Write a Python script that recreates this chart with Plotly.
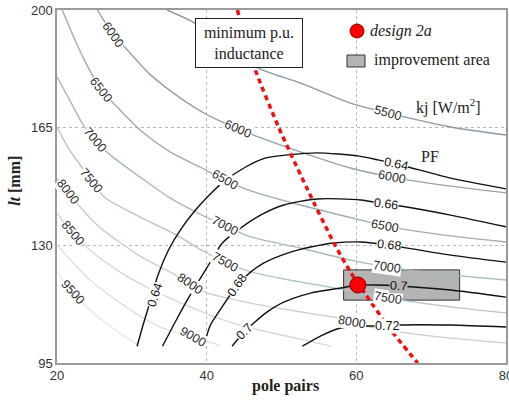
import plotly.graph_objects as go

# ---------------- data ----------------
# kj contour lines [W/m^2]  (x = pole pairs, y = lt [mm])
kj5500_x = [34.7, 38.2, 42.5, 46.8, 52.5, 59.2, 64.2, 72.6, 80.0]
kj5500_y = [200.0, 196.4, 189.6, 182.8, 178.3, 172.3, 169.4, 165.2, 162.8]
kj6000_x = [25.4, 27.5, 29.4, 32.5, 36.5, 40.1, 44.2, 45.9, 52.5, 59.2, 64.7, 72.6, 80.0]
kj6000_y = [200.0, 192.6, 188.1, 180.7, 173.8, 168.8, 164.6, 163.1, 157.8, 153.0, 150.3, 147.6, 145.6]
kj6500_x = [20.7, 22.4, 24.2, 25.9, 27.8, 31.1, 35.1, 39.1, 42.5, 45.9, 52.5, 60.6, 63.8, 72.6, 80.0]
kj6500_y = [200.0, 191.1, 182.8, 176.2, 171.7, 164.3, 157.8, 153.3, 149.4, 146.2, 142.0, 137.5, 135.8, 132.8, 131.0]
kj7000_x = [20.0, 21.7, 23.5, 25.1, 27.1, 31.1, 35.1, 39.1, 42.5, 45.9, 52.5, 59.2, 64.1, 72.6, 80.0]
kj7000_y = [180.1, 173.2, 165.8, 161.3, 156.9, 150.3, 144.1, 139.3, 135.8, 132.5, 129.2, 125.6, 123.6, 121.2, 119.7]
kj7500_x = [20.0, 21.5, 23.1, 24.6, 26.3, 31.1, 35.7, 39.1, 42.4, 45.9, 50.3, 57.9, 64.2, 72.6, 80.0]
kj7500_y = [165.2, 159.0, 153.9, 149.1, 144.4, 138.4, 133.4, 128.9, 125.0, 122.1, 120.0, 117.0, 114.3, 111.7, 109.9]
kj8000_x = [20.0, 21.5, 23.1, 25.8, 31.1, 35.8, 37.8, 39.8, 45.9, 52.5, 57.6, 59.4, 61.3, 65.9, 72.6, 80.0]
kj8000_y = [150.0, 145.9, 141.4, 135.2, 126.8, 121.2, 118.5, 116.1, 112.8, 110.2, 108.4, 107.2, 106.0, 104.2, 102.4, 101.0]
kj8500_x = [20.0, 22.1, 24.4, 28.4, 32.5, 37.8, 41.4, 45.9, 52.5, 56.6]
kj8500_y = [139.6, 133.7, 128.6, 122.1, 117.0, 111.7, 108.4, 105.4, 102.1, 100.0]
kj9000_x = [20.0, 24.4, 29.8, 33.8, 38.2, 41.2, 41.8]
kj9000_y = [130.1, 119.7, 110.8, 105.7, 102.7, 100.6, 100.0]
kj9500_x = [20.0, 22.1, 24.4, 28.4, 31.1]
kj9500_y = [122.1, 116.1, 110.8, 103.9, 100.0]

# power factor contour lines
pf064_x = [30.7, 31.5, 32.5, 33.5, 34.9, 36.5, 38.5, 40.1, 42.2, 45.2, 47.9, 50.8, 54.8, 60.2, 62.9, 65.3, 66.9, 72.6, 80.0]
pf064_y = [100.0, 106.3, 113.7, 121.2, 128.6, 134.6, 140.5, 144.4, 148.8, 153.3, 156.0, 156.9, 157.5, 156.6, 155.4, 154.2, 153.3, 150.0, 146.8]
pf066_x = [34.1, 35.8, 37.4, 40.1, 42.1, 44.2, 47.2, 50.3, 54.8, 60.6, 63.9, 65.9, 72.6, 80.0]
pf066_y = [100.0, 107.2, 113.7, 123.6, 130.7, 134.6, 139.0, 142.0, 143.8, 143.5, 142.3, 141.7, 139.0, 135.5]
pf068_x = [39.6, 40.5, 41.8, 44.1, 45.9, 47.6, 50.8, 53.9, 57.0, 60.6, 64.3, 65.9, 72.6, 80.0]
pf068_y = [100.0, 106.3, 110.8, 118.2, 122.1, 124.7, 127.7, 129.5, 130.7, 131.0, 130.1, 129.5, 127.1, 125.0]
pf070_x = [43.4, 45.0, 46.3, 48.1, 50.3, 53.9, 57.9, 60.2, 62.6, 65.7, 72.6, 80.0]
pf070_y = [100.0, 104.2, 106.9, 110.2, 113.1, 115.8, 117.3, 118.2, 118.2, 117.9, 116.7, 114.6]
pf072_x = [52.8, 55.2, 57.9, 61.3, 64.1, 65.7, 72.6, 80.0]
pf072_y = [100.0, 103.0, 105.4, 106.0, 106.0, 106.3, 106.3, 105.7]

# minimum p.u. inductance boundary
lmin_x = [44.1, 46.5, 49.6, 53.5, 57.0, 59.2, 61.3, 64.6, 68.2]
lmin_y = [200.0, 182.2, 165.2, 146.5, 130.7, 122.1, 115.2, 104.8, 95.0]

# design point and improvement area
design_x = [60.2]
design_y = [118.2]
improve_x = [58.3, 73.8]
improve_y = [113.7, 122.7]

# contour labels (text, x, y)
kj_lab_text = ["6000", "6500", "7000", "7500", "8000", "8500", "9500",
               "6000", "6500", "7000", "7500", "8000", "9000",
               "5500", "6000", "6500", "7000", "7500", "8000"]
kj_lab_x = [27.5, 25.9, 25.1, 24.6, 21.5, 22.1, 22.1,
            44.2, 42.5, 42.5, 42.4, 37.8, 38.2,
            64.2, 64.7, 63.8, 64.1, 64.2, 59.4]
kj_lab_y = [192.6, 176.2, 161.3, 149.1, 145.9, 133.7, 116.1,
            164.6, 149.4, 135.8, 125.0, 118.5, 102.7,
            169.4, 150.3, 135.8, 123.6, 114.3, 107.2]
pf_lab_text = ["0.64", "0.64", "0.66", "0.68", "0.68", "0.7", "0.7", "0.72"]
pf_lab_x = [33.1, 65.3, 63.9, 44.1, 64.3, 45.0, 65.7, 64.1]
pf_lab_y = [115.2, 154.2, 142.3, 118.2, 130.1, 104.2, 117.9, 106.0]

x_ticks = [20, 40, 60, 80]
y_ticks = [95, 130, 165, 200]

# ---------------- styling ----------------
kj_lines = [(kj5500_x, kj5500_y), (kj6000_x, kj6000_y), (kj6500_x, kj6500_y),
            (kj7000_x, kj7000_y), (kj7500_x, kj7500_y), (kj8000_x, kj8000_y),
            (kj8500_x, kj8500_y), (kj9000_x, kj9000_y), (kj9500_x, kj9500_y)]
kj_colors = ["#8a99a4", "#93a3ab", "#9cadb1", "#a7bab9", "#b3c6c3",
             "#c1d2cf", "#ccdbd8", "#d8e4e2", "#e2ecea"]
pf_lines = [(pf064_x, pf064_y), (pf066_x, pf066_y), (pf068_x, pf068_y),
            (pf070_x, pf070_y), (pf072_x, pf072_y)]
kj_angles = [55, 52, 50, 50, 52, 50, 48, 24, 30, 28, 30, 35, 30, 15, 11, 10, 8, 9, 10]
pf_angles = [-72, 12, 7, -55, 6, -45, 3, 0]
BOX_GRAY = "#b4b4b4"

fig = go.Figure()
for (xs, ys), col in zip(kj_lines, kj_colors):
    fig.add_trace(go.Scatter(x=xs, y=ys, mode="lines", hoverinfo="skip",
                             line=dict(color=col, width=1.4, shape="spline", smoothing=0.7)))
for xs, ys in pf_lines:
    fig.add_trace(go.Scatter(x=xs, y=ys, mode="lines", hoverinfo="skip",
                             line=dict(color="#111111", width=1.4, shape="spline", smoothing=0.7)))
fig.add_trace(go.Scatter(x=lmin_x, y=lmin_y, mode="lines", hoverinfo="skip",
                         line=dict(color="#ee1111", width=3.5, dash="5px,4px",
                                   shape="spline", smoothing=0.6)))
fig.add_trace(go.Scatter(x=design_x, y=design_y, mode="markers", hoverinfo="skip",
                         marker=dict(size=16, color="#ff0000",
                                     line=dict(color="#7a0000", width=1))))

shapes = [dict(type="rect", xref="x", yref="y", x0=improve_x[0], x1=improve_x[1],
               y0=improve_y[0], y1=improve_y[1], fillcolor=BOX_GRAY,
               line=dict(color="#333333", width=1), layer="between"),
          # legend symbols
          dict(type="circle", xref="paper", yref="paper", x0=0.6526, x1=0.6837,
               y0=0.9207, y1=0.9603, fillcolor="#ff0000", line=dict(color="#7a0000", width=1)),
          dict(type="rect", xref="paper", yref="paper", x0=0.6459, x1=0.6860,
               y0=0.8385, y1=0.8725, fillcolor=BOX_GRAY, line=dict(color="#333333", width=1))]

ann = []
lab_font = dict(family="Liberation Sans, Arial, sans-serif", size=12.5, color="#2a2a2a")
for t, x, y, a in zip(kj_lab_text, kj_lab_x, kj_lab_y, kj_angles):
    ann.append(dict(x=x, y=y, xref="x", yref="y", text=t, showarrow=False, textangle=a,
                    xanchor="center", yanchor="middle",
                    font=lab_font, bgcolor="white", borderpad=0))
for i, (t, x, y, a) in enumerate(zip(pf_lab_text, pf_lab_x, pf_lab_y, pf_angles)):
    bg = BOX_GRAY if i == 6 else "white"
    ann.append(dict(x=x, y=y, xref="x", yref="y", text=t, showarrow=False, textangle=a,
                    xanchor="center", yanchor="middle",
                    font=dict(family="Liberation Sans, Arial, sans-serif", size=12.5, color="#111"),
                    bgcolor=bg, borderpad=0))

serif = "Liberation Serif, Times New Roman, serif"


def txt(x, y, text, xanchor="center", angle=0, **kw):
    d = dict(x=x, y=y, xref="paper", yref="paper", showarrow=False, text=text,
             xanchor=xanchor, yanchor="middle", textangle=angle,
             font=dict(family=serif, size=16, color="#222"))
    d.update(kw)
    return d


ann += [
    txt(0.4276, 0.9065, "minimum p.u.<br>inductance", bgcolor="white", bordercolor="#222",
        borderwidth=1, borderpad=4, width=98, height=40),
    txt(0.6927, 0.9405, "<i>design 2a</i>", xanchor="left"),
    txt(0.7016, 0.8584, "improvement area", xanchor="left"),
    txt(0.873, 0.728, "kj [W/m<sup>2</sup>]"),
    txt(0.8307, 0.5836, "PF"),
    txt(0.508, -0.065, "<b>pole pairs</b>"),
    txt(-0.0935, 0.516, "<b><i>lt</i> [mm]</b>", angle=-90),
]

axis_common = dict(showline=True, mirror=True, linecolor="#9a9a9a", linewidth=1.5,
                   showgrid=True, gridcolor="#b8b8b8", griddash="dot", gridwidth=1,
                   zeroline=False, ticks="", ticklabeloverflow="allow", automargin=False,
                   tickfont=dict(family="Liberation Sans, Arial, sans-serif", size=13, color="#333"))
fig.update_layout(
    width=509, height=403, margin=dict(l=57, r=3, t=10, b=40, autoexpand=False),
    paper_bgcolor="white", plot_bgcolor="white", showlegend=False,
    xaxis=dict(range=[20, 80], tickvals=x_ticks, **axis_common),
    yaxis=dict(range=[95, 200], tickvals=y_ticks, **axis_common),
    shapes=shapes, annotations=ann,
)
fig.write_html("out.html", config={"displayModeBar": False},
               post_script="document.body.style.margin='0';")
